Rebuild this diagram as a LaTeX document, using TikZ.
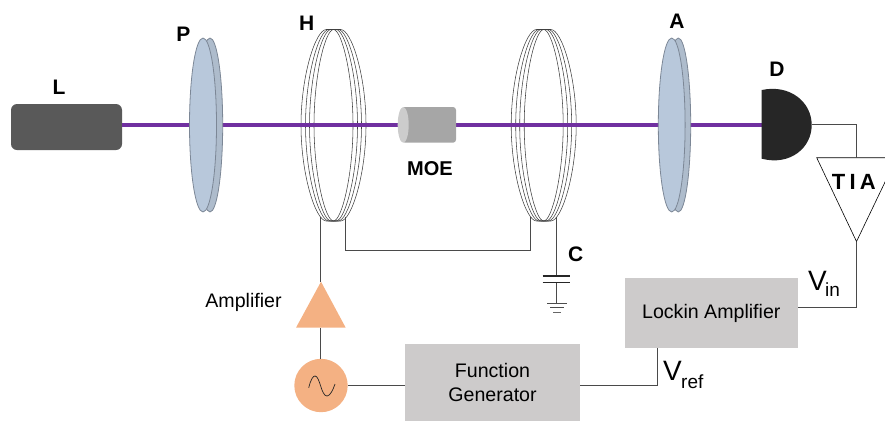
\documentclass[tikz,border=0pt]{standalone}
\usepackage{fontspec}
\setmainfont{Liberation Sans}
\definecolor{beam}{HTML}{7030A0}
\definecolor{lens}{HTML}{B8C8DB}
\definecolor{lensb}{HTML}{AEBCCC}
\definecolor{lensedge}{HTML}{7C8796}
\definecolor{boxgray}{HTML}{CDCBCB}
\definecolor{peach}{HTML}{F4B183}
\definecolor{wirecol}{HTML}{4A4A4A}
\newcommand{\coilring}[2]{% centre x, half width
  \pgfmathsetmacro{\fw}{(#2-19.5)*0.55}
  \pgfmathsetmacro{\ax}{#2-\fw}
  \draw[coilline] (#1-#2,125.2)
    .. controls (#1-#2,75) and (#1-\fw-\ax*0.42,29.5) .. (#1-\fw,29.5)
    -- (#1+\fw,29.5)
    .. controls (#1+\fw+\ax*0.42,29.5) and (#1+#2,75) .. (#1+#2,125.2)
    .. controls (#1+#2,175) and (#1+\fw+\ax*0.42,221) .. (#1+\fw,221)
    -- (#1-\fw,221)
    .. controls (#1-\fw-\ax*0.42,221) and (#1-#2,175) .. (#1-#2,125.2) -- cycle;
}
\tikzset{
  lbl/.style={font=\bfseries\fontsize{21}{22}\selectfont,inner sep=0pt,text=black},
  reg/.style={font=\fontsize{19.6}{23.5}\selectfont,inner sep=0pt,text=black,align=center},
  wire/.style={draw=wirecol,line width=1pt},
  coilline/.style={draw=black!75,line width=0.55pt},
  lensback/.style={fill=lensb,draw=lensedge,line width=0.8pt},
  lensfront/.style={fill=lens,draw=lensedge,line width=0.8pt},
  instr/.style={fill=boxgray,draw=none,inner sep=0pt},
  bigv/.style={font=\fontsize{28}{30}\selectfont,inner sep=0pt,anchor=base west},
  sub/.style={font=\fontsize{19}{20}\selectfont,inner sep=0pt,anchor=base west},
}
\begin{document}
\begin{tikzpicture}[x=1pt,y=-1pt]
\useasboundingbox (0,0) rectangle (885,421);
% named points
\coordinate (hl) at (320.5,217);
\coordinate (hr) at (345.5,217);
\coordinate (cl) at (530.5,217);
\coordinate (cr) at (556.5,217);
\coordinate (pl) at (556.5,276);
\coordinate (pl2) at (556.5,282.7);
\coordinate (gnd) at (556.5,303);
\coordinate (tiaT) at (856.5,157.7);
\coordinate (tiaB) at (856.5,241.5);
% laser
\node[fill=black!65,rounded corners=6pt,minimum width=111pt,minimum height=46pt,inner sep=0pt] (L) at (66.5,127) {};
% coils
\foreach \r in {32.5,28,24,19.5}{
  \coilring{333.5}{\r}
  \coilring{543.7}{\r}
}
% beam
\coordinate (bs) at (122,125);
\coordinate (be) at (764,125);
\draw[beam,line width=3.3pt] (bs) -- (be);
% polarizer
\draw[lensback] (210,125) ellipse (12.7 and 87);
\draw[lensfront] (203,125) ellipse (13.5 and 87);
% analyzer
\draw[lensback] (678.3,125) ellipse (12.4 and 87);
\draw[lensfront] (671.7,125) ellipse (13.4 and 87);
% MOE
\fill[black!35,rounded corners=3pt] (402,107) rectangle (456,142.7);
\fill[black!20] (403.2,124.9) ellipse (5.5 and 17.8);
% detector
\fill[black!85] (761.7,90) .. controls (790,84) and (811.7,102) .. (811.7,125) .. controls (811.7,148) and (790,166) .. (761.7,158.7) -- cycle;
\coordinate (dout) at (811.7,124.5);
% TIA
\begin{scope}
\clip (0,0) rectangle (885,421);
\draw[black,line width=0.6pt] (816.7,157.7) -- (896.7,157.7) -- (tiaB) -- cycle;
\end{scope}
\draw[wire] (dout) -| (tiaT);
% wires
\node[instr,minimum width=172.7pt,minimum height=70pt] (lock) at (711.3,313) {};
\node[instr,minimum width=175pt,minimum height=77pt] (fg) at (492.5,382.5) {};
\fill[peach] (321,281.7) -- (345.7,327.7) -- (296,327.7) -- cycle;
\coordinate (ampT) at (320.5,281.7);
\coordinate (ampB) at (320.5,327.7);
\node[circle,fill=peach,minimum size=53.4pt,inner sep=0pt] (src) at (321,385.5) {};
\draw[wire] (hl) -- (ampT);
\draw[wire] (ampB) -- (320.5,359);
\draw[wire] (hr) |- (345.5,250.5) -| (cl);
\draw[wire] (cr) -- (pl);
\draw[wire] (pl2) -- (gnd);
\draw[wire] (src.east) -- (src.east -| fg.west);
\draw[wire] (tiaB) |- (lock.east |- 0,307.5);
\draw[wire] (657.5,348) |- (580,385.5);
% capacitor + ground
\draw[black!85,line width=1.5pt] (542.7,276) -- (570,276);
\draw[black!85,line width=1.5pt] (542.7,282.7) -- (570,282.7);
\draw[black!70,line width=0.7pt] (547,303) -- (567,303);
\draw[black!70,line width=0.7pt] (550,307.7) -- (564,307.7);
\draw[black!60,line width=0.7pt] (553,312) -- (561,312);
% sine
\draw[black!85,line width=0.7pt] (308.7,387.7) .. controls (311,379) and (313,376) .. (315,376) .. controls (320,376) and (321,396) .. (327,396) .. controls (330,396) and (333,390) .. (335,384);
% labels
\node[lbl] (tL) at (59,87) {L};
\node[lbl] (tP) at (183.5,34) {P};
\node[lbl] (tH) at (306.7,23) {H};
\node[lbl,font=\bfseries\fontsize{20}{22}\selectfont] (tMOE) at (430,169) {MOE};
\node[lbl] (tA) at (677,21.7) {A};
\node[lbl] (tD) at (777,69) {D};
\node[lbl] (tC) at (575.7,254) {C};
\node[lbl,font=\bfseries\fontsize{22}{22}\selectfont] (tTIA) at (853.8,181.5) {T\hspace{4.2pt}I\hspace{4.2pt}A};
\node[reg] (tAmp) at (243.5,302) {Amplifier};
\node[reg] (tFG) at (fg) {Function\\Generator};
\node[reg] (tLock) at (lock) {Lockin Amplifier};
\node[bigv] (vin) at (808,290) {V};
\node[sub] (vinS) at (825,296.7) {in};
\node[bigv] (vref) at (663,380.7) {V};
\node[sub] (vrefS) at (681,388.3) {ref};
\end{tikzpicture}
\end{document}
